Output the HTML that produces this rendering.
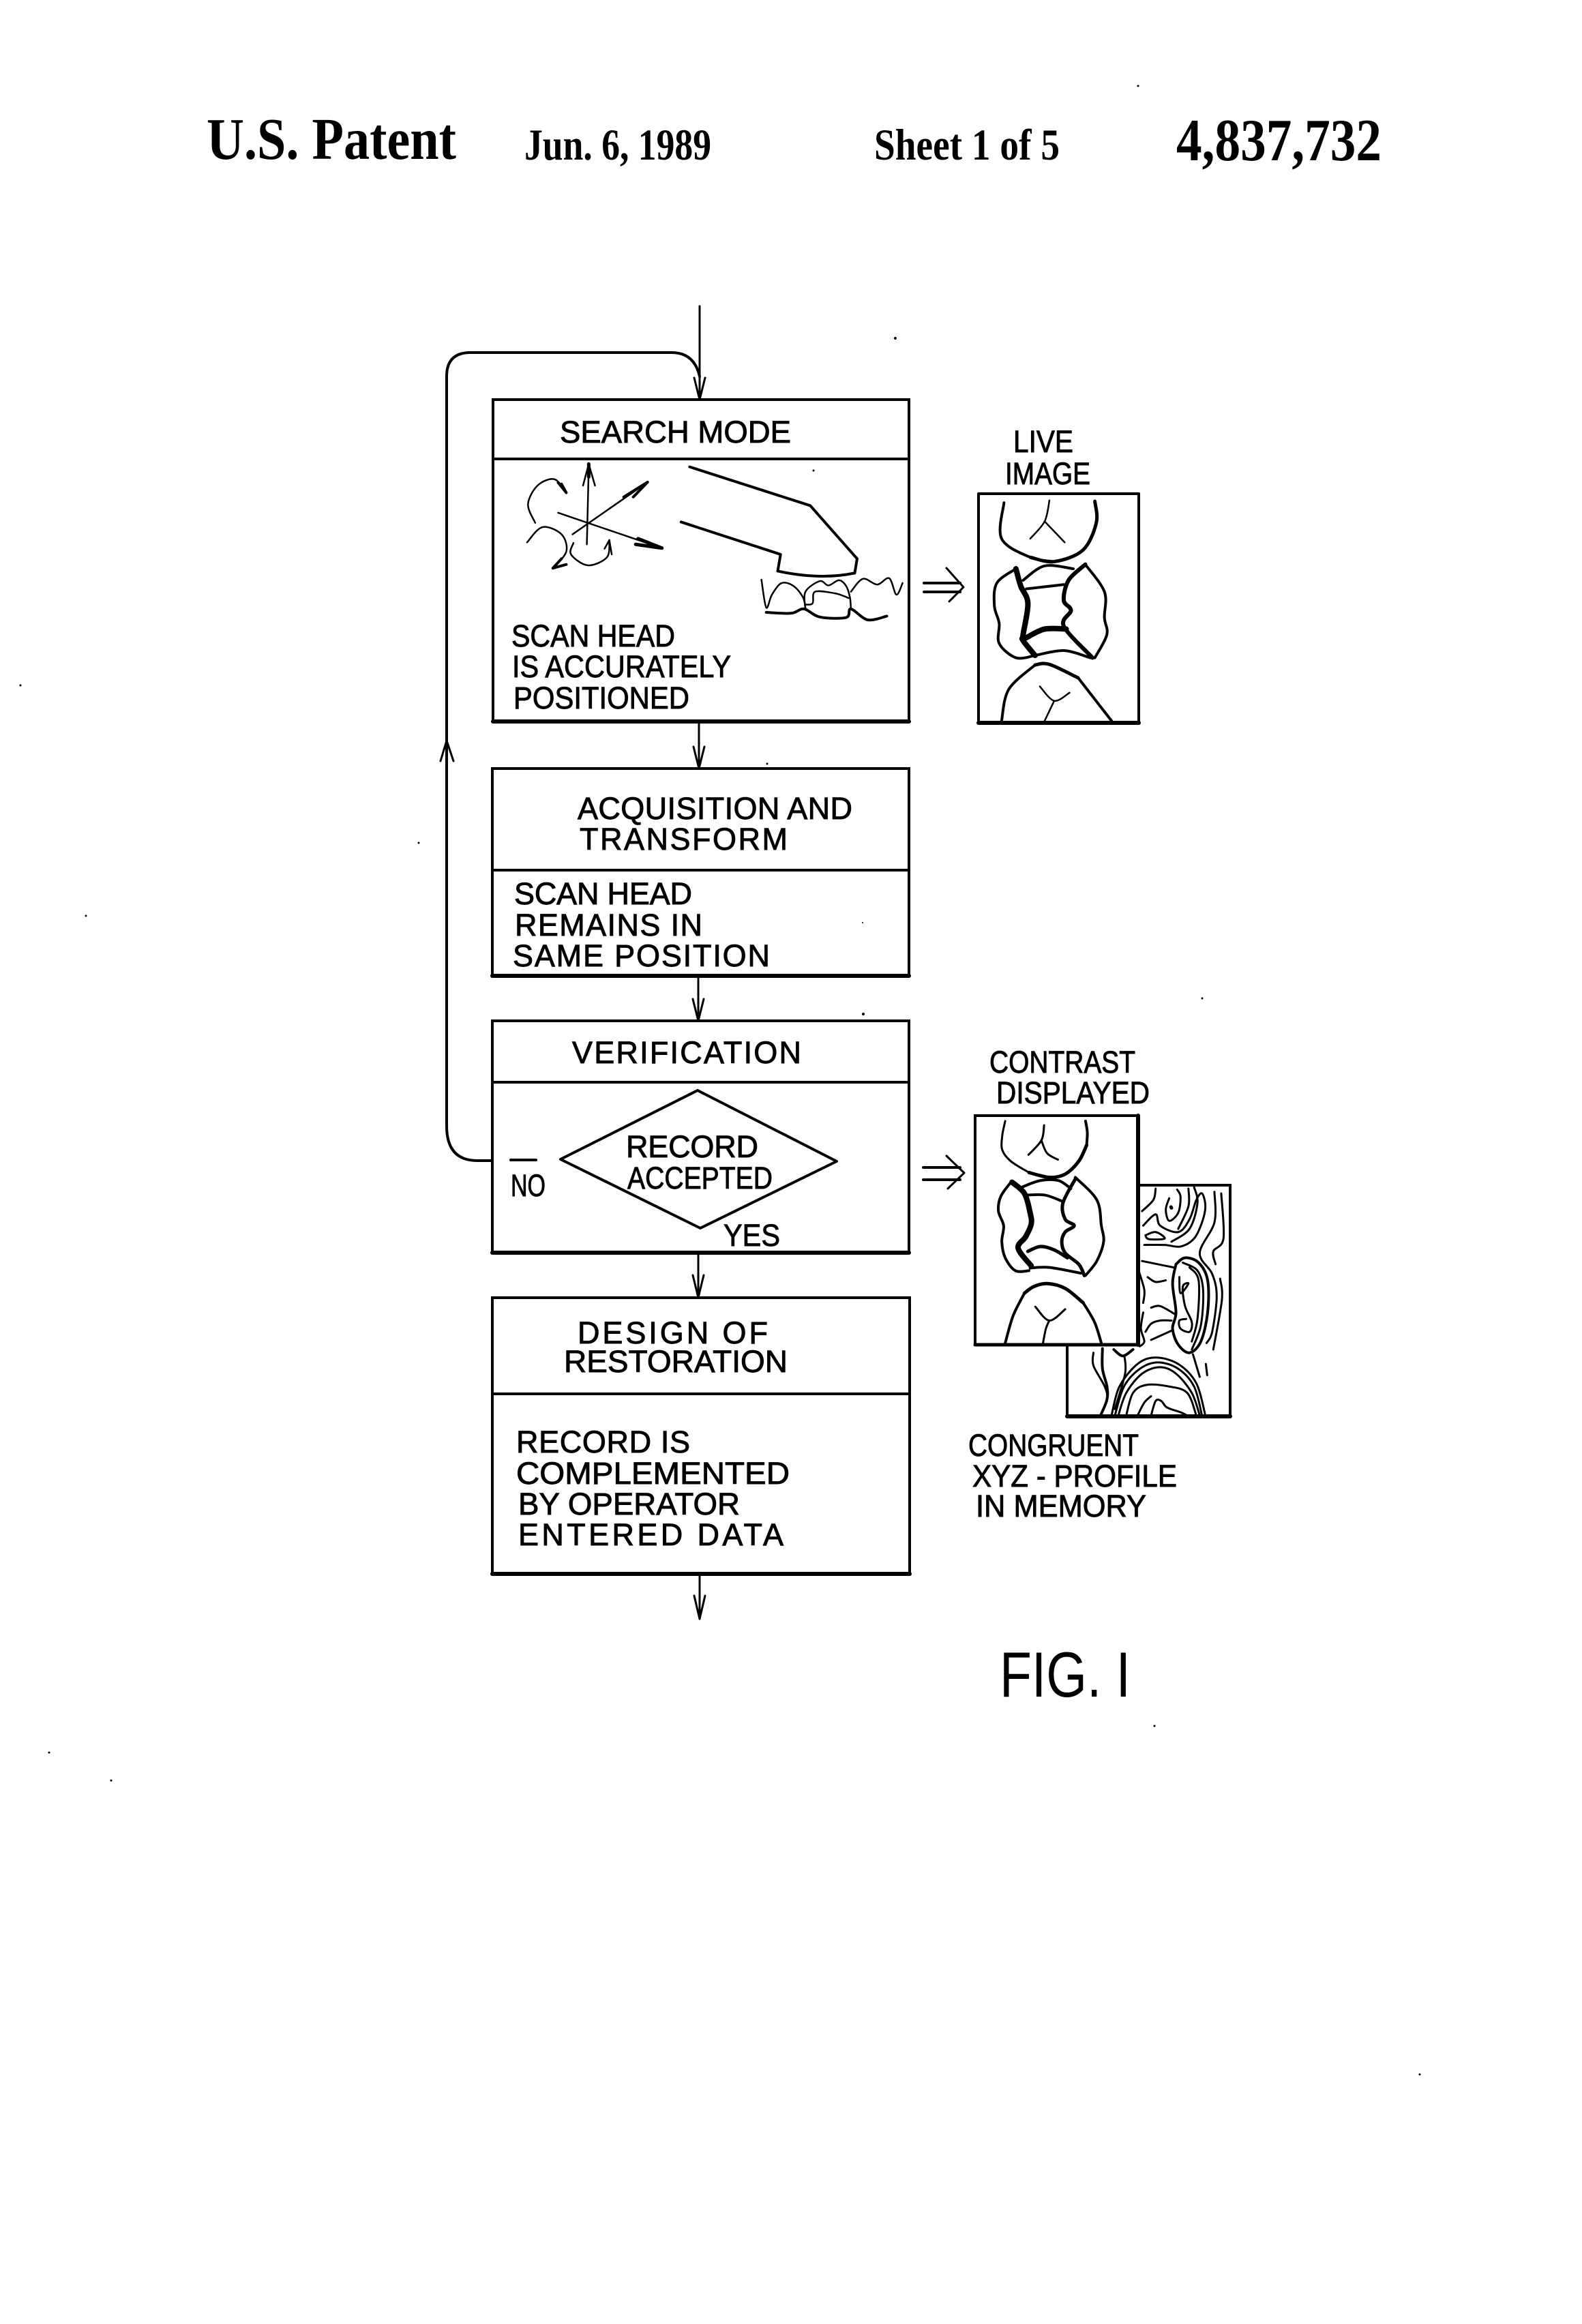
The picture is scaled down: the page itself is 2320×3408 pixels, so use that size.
<!DOCTYPE html>
<html lang="en">
<head>
<meta charset="utf-8">
<title>U.S. Patent 4,837,732 Sheet 1</title>
<style>
html,body{margin:0;padding:0;background:#fff}
svg{display:block}
polyline,path,line{fill:none;stroke:#000;stroke-width:3;stroke-linejoin:round;stroke-linecap:round;vector-effect:non-scaling-stroke}
rect{fill:#fff;stroke:#000;stroke-width:4;vector-effect:non-scaling-stroke}
.th{stroke-width:6}
.t2{stroke-width:4}
.t8{stroke-width:8}
.t5{stroke-width:5}
.t1{stroke-width:2.5}
text{fill:#000}
.l{font-family:"Liberation Sans",sans-serif;font-size:45px;stroke:#000;stroke-width:.9px}
.h{font-family:"Liberation Serif",serif}
</style>
</head>
<body>
<svg xmlns="http://www.w3.org/2000/svg" width="2320" height="3408" viewBox="0 0 2320 3408">
<rect x="0" y="0" width="2320" height="3408" style="stroke:none"/>

<!-- header -->
<text class="h" x="303" y="233" font-size="87" font-weight="bold" textLength="366" lengthAdjust="spacingAndGlyphs">U.S. Patent</text>
<text class="h" x="769" y="234" font-size="65" textLength="274" lengthAdjust="spacingAndGlyphs" font-weight="bold">Jun. 6, 1989</text>
<text class="h" x="1282" y="234" font-size="65" textLength="272" lengthAdjust="spacingAndGlyphs" font-weight="bold">Sheet 1 of 5</text>
<text class="h" x="1725" y="235" font-size="88" font-weight="bold" textLength="301" lengthAdjust="spacingAndGlyphs">4,837,732</text>

<!-- connectors -->
<line x1="1026" y1="449" x2="1026" y2="586"/>
<polyline points="1018,554 1026,586 1034,554"/>
<path class="t2" d="M722,1702 H700 Q655,1702 655,1651 V552 Q655,517 690,517 H985 Q1018,517 1026,552"/>
<polyline points="646,1116 655,1086 665,1116"/>
<line x1="1025" y1="1058" x2="1025" y2="1127"/>
<polyline points="1017,1095 1025,1127 1033,1095"/>
<line x1="1024" y1="1431" x2="1024" y2="1497"/>
<polyline points="1016,1465 1024,1497 1032,1465"/>
<line x1="1024" y1="1837" x2="1024" y2="1903"/>
<polyline points="1016,1870 1024,1903 1032,1870"/>
<line x1="1026" y1="2308" x2="1026" y2="2374"/>
<polyline points="1018,2340 1026,2374 1034,2340"/>

<!-- box 1 -->
<rect x="723" y="586" width="610" height="472"/>
<line class="t2" x1="723" y1="673" x2="1333" y2="673"/>
<line class="th" x1="723" y1="1058" x2="1333" y2="1058"/>
<text class="l" x="821" y="649" textLength="339" lengthAdjust="spacingAndGlyphs">SEARCH MODE</text>
<text class="l" x="750" y="948" textLength="240" lengthAdjust="spacingAndGlyphs">SCAN HEAD</text>
<text class="l" x="751" y="993" textLength="321" lengthAdjust="spacingAndGlyphs">IS ACCURATELY</text>
<text class="l" x="753" y="1039" textLength="258" lengthAdjust="spacingAndGlyphs">POSITIONED</text>

<!-- box 2 -->
<rect x="722" y="1127" width="611" height="304"/>
<line class="t2" x1="722" y1="1276" x2="1333" y2="1276"/>
<line class="th" x1="722" y1="1431" x2="1333" y2="1431"/>
<text class="l" x="847" y="1201" textLength="403">ACQUISITION AND</text>
<text class="l" x="850" y="1246" textLength="305">TRANSFORM</text>
<text class="l" x="754" y="1326" textLength="261">SCAN HEAD</text>
<text class="l" x="755" y="1372" textLength="275">REMAINS IN</text>
<text class="l" x="752" y="1417" textLength="377">SAME POSITION</text>

<!-- box 3 -->
<rect x="722" y="1497" width="611" height="340"/>
<line class="t2" x1="722" y1="1587" x2="1333" y2="1587"/>
<line class="th" x1="722" y1="1837" x2="1333" y2="1837"/>
<text class="l" x="839" y="1559" textLength="336">VERIFICATION</text>
<polyline class="t2" points="1023,1599 1227,1703 1027,1801 822,1700 1023,1599"/>
<text class="l" x="918" y="1697" textLength="194">RECORD</text>
<text class="l" x="920" y="1743" textLength="213" lengthAdjust="spacingAndGlyphs">ACCEPTED</text>
<line class="t2" x1="749" y1="1701" x2="786" y2="1701"/>
<text class="l" x="749" y="1754" textLength="51" lengthAdjust="spacingAndGlyphs">NO</text>
<text class="l" x="1061" y="1827" textLength="83" lengthAdjust="spacingAndGlyphs">YES</text>

<!-- box 4 -->
<rect x="722" y="1903" width="612" height="405"/>
<line class="t2" x1="722" y1="2044" x2="1334" y2="2044"/>
<line class="th" x1="722" y1="2308" x2="1334" y2="2308"/>
<text class="l" x="847" y="1970" textLength="279">DESIGN OF</text>
<text class="l" x="827" y="2012" textLength="328" lengthAdjust="spacingAndGlyphs">RESTORATION</text>
<text class="l" x="757" y="2130" textLength="255">RECORD IS</text>
<text class="l" x="757" y="2176" textLength="401" lengthAdjust="spacingAndGlyphs">COMPLEMENTED</text>
<text class="l" x="760" y="2221" textLength="325" lengthAdjust="spacingAndGlyphs">BY OPERATOR</text>
<text class="l" x="760" y="2266" textLength="389">ENTERED DATA</text>

<!-- double arrows -->
<line class="t2" x1="1355" y1="855" x2="1408" y2="855"/>
<line class="t2" x1="1355" y1="868" x2="1408" y2="868"/>
<polyline points="1388,833 1413,861 1392,882"/>
<line class="t2" x1="1354" y1="1712" x2="1408" y2="1712"/>
<line class="t2" x1="1354" y1="1730" x2="1408" y2="1730"/>
<polyline points="1388,1695 1414,1720 1390,1743"/>

<!-- search mode drawing, zoom-2 coordinates -->
<g class="s" transform="translate(620,430) scale(.7015,.4209)">
  <path class="t2" d="M558,605 L810,740 L908,925 L903,975 Q830,1000 742,968 L748,910 L540,797"/>
  <line class="t1" x1="343" y1="875" x2="347" y2="600"/>
  <line class="t5" x1="347" y1="595" x2="347" y2="640"/>
  <polyline class="t1 n" points="335,670 347,595 360,670"/>
  <line class="t1" x1="313" y1="840" x2="470" y2="658"/>
  <polyline class="t2 n" points="420,710 470,658 440,710"/>
  <line class="t1" x1="283" y1="765" x2="500" y2="888"/>
  <polyline class="t5 n" points="450,855 500,888 445,875"/>
  <polyline class="t1" points="235,800 220,735 240,670 275,648 300,695"/>
  <polyline class="t2 n" points="283,660 300,695 290,665"/>
  <polyline class="t1" points="218,868 250,815 290,840 300,900 272,958"/>
  <polyline class="t2 n" points="290,925 272,958 300,945"/>
  <polyline class="t1" points="315,870 310,910 345,948 385,920 390,860"/>
  <polyline class="t1 n" points="380,890 390,860 395,910"/>
  <!-- small teeth -->
  <polyline class="t1" points="708,998 718,1095 730,1050 750,1010 775,1020 795,1060 800,1100"/>
  <polyline class="t2" points="718,1112 770,1115 797,1100 830,1128 885,1130 895,1100 930,1138 970,1125"/>
  <polyline class="t1" points="800,1100 800,1040 830,1003 848,1018 870,1000 885,1020 893,1060 895,1100"/>
  <polyline class="t1" points="800,1085 815,1080 820,1040 860,1045 880,1055 890,1062"/>
  <polyline class="t1" points="895,1040 920,995 950,1015 975,993 990,1050 1003,1010"/>
  <!-- live image teeth -->
  <polyline class="t2" points="1215,730 1210,855 1270,920 1320,935"/>
  <polyline class="t5" points="1270,920 1320,935 1380,895 1408,800 1405,725"/>
  <polyline class="t1" points="1310,722 1300,795 1270,855"/>
  <polyline class="t1" points="1300,795 1342,868"/>
  <polyline class="t2" points="1240,960 1200,1010 1195,1090 1205,1150 1205,1220 1240,1270 1280,1262"/>
  <polyline class="t8" points="1240,960 1250,1020 1265,1080 1255,1190 1255,1210 1280,1262"/>
  <polyline class="t2" points="1255,1000 1300,950 1360,960"/>
  <polyline class="t2" points="1262,1030 1340,1015"/>
  <polyline class="th" points="1385,945 1350,1000 1340,1070 1355,1105 1340,1160 1400,1270"/>
  <polyline class="t2" points="1385,945 1425,1040 1425,1130 1430,1190 1405,1270"/>
  <polyline class="t8" points="1262,1200 1300,1170 1345,1170"/>
  <polyline class="t2" points="1280,1262 1340,1245 1395,1270"/>
  <polyline class="t2" points="1210,1490 1225,1380 1280,1295"/>
  <polyline class="t5" points="1280,1295 1310,1293 1370,1340"/>
  <polyline class="t2" points="1370,1340 1440,1490"/>
  <polyline class="t1" points="1290,1370 1320,1420 1352,1392"/>
  <polyline class="t1" points="1320,1420 1300,1490"/>
</g>

<!-- live image frame -->
<path class="t2" d="M1435,724 H1670 V1060 H1435 Z"/>
<line class="th" x1="1435" y1="1060" x2="1670" y2="1060"/>
<text class="l" x="1486" y="663" textLength="88" lengthAdjust="spacingAndGlyphs">LIVE</text>
<text class="l" x="1474" y="710" textLength="125" lengthAdjust="spacingAndGlyphs">IMAGE</text>

<!-- back (profile) box -->
<rect x="1565" y="1738" width="239" height="339"/>
<line class="th" x1="1565" y1="2077" x2="1804" y2="2077"/>
<g class="s" transform="translate(1300,1500) scale(.3317,.4719)">
  <polyline points="1190,515 1180,550 1130,585"/>
  <polyline points="1135,630 1190,595 1210,630 1290,650 1340,610 1370,550 1395,530 1410,570 1395,620 1360,670 1300,695 1230,690 1140,690"/>
  <polyline points="1145,660 1190,650 1230,670 1160,672 1145,660"/>
  <polyline points="1250,545 1235,580 1250,615 1290,590 1300,540 1285,518"/>
  <polyline class="t5" points="1258,572 1260,575"/>
  <polyline points="1335,515 1335,570 1290,640"/>
  <polyline points="1360,510 1375,560 1340,640 1260,680"/>
  <polyline points="1450,525 1450,620 1385,715 1440,780 1460,850 1440,960 1415,995"/>
  <polyline points="1480,530 1490,670 1445,710 1455,750"/>
  <polyline points="1475,795 1483,860 1445,1015"/>
  <polyline class="t2" points="1280,750 1265,810 1280,900 1265,950 1290,1000 1340,1025 1390,990 1420,900 1420,800 1380,745 1320,730 1280,750"/>
  <polyline points="1310,745 1375,770 1400,830 1390,940 1350,1015"/>
  <polyline points="1340,760 1380,800 1375,920 1350,990"/>
  <polyline points="1295,790 1300,840 1335,810 1310,820 1320,880 1350,930 1340,960 1300,950 1295,925 1325,920"/>
  <polyline points="1130,740 1200,750 1270,760"/>
  <polyline points="1155,790 1190,805 1235,800"/>
  <polyline points="1170,885 1210,880 1275,905"/>
  <polyline points="1145,960 1170,935 1210,925 1260,925"/>
  <polyline points="1170,985 1265,955"/>
  <polyline points="1115,770 1140,830 1135,870"/>
  <polyline points="1135,900 1125,950 1140,990 1120,1005"/>
  <polyline points="915,1025 915,1065 965,1130 975,1170 945,1220"/>
  <polyline class="t2" points="955,1012 955,1075 975,1130 975,1170 950,1215"/>
  <polyline class="t2" points="1005,1015 1045,1035 1090,1015"/>
  <polyline points="1052,1035 1055,1090 1010,1200"/>
  <polyline points="995,1220 1030,1130 1110,1060 1190,1040 1290,1060 1370,1120 1410,1220"/>
  <polyline points="1010,1220 1050,1130 1120,1075 1200,1055 1290,1075 1360,1130 1395,1220"/>
  <polyline points="1025,1220 1060,1150 1130,1090 1210,1070 1280,1090 1350,1150 1385,1220"/>
  <polyline points="1060,1220 1090,1150 1150,1125 1250,1130 1330,1150 1370,1220"/>
  <polyline points="1110,1220 1140,1180 1170,1160"/>
  <polyline points="1170,1220 1190,1175 1215,1175 1240,1195 1300,1210 1330,1220"/>
  <polyline points="1355,1030 1385,1100"/>
  <polyline points="1412,1060 1418,1095"/>
</g>

<!-- contrast box -->
<rect x="1430" y="1636" width="239" height="336"/>
<line class="th" x1="1669" y1="1636" x2="1669" y2="1972"/>
<line class="t5" x1="1430" y1="1972" x2="1669" y2="1972"/>
<g class="s" transform="translate(1300,1500) scale(.3317,.4719)">
  <polyline points="525,305 512,350 512,395 550,430 630,465"/>
  <polyline class="t5" points="630,465 720,480 790,470 850,430 885,380"/>
  <polyline class="t2" points="885,380 888,340 880,305"/>
  <polyline points="697,318 685,365 628,410"/>
  <polyline points="685,365 710,405 758,425"/>
  <polyline class="t2" points="550,495 505,540 495,585 518,630 510,680 525,730 570,770 630,770"/>
  <polyline class="t8" points="555,495 610,530 635,590 640,625 615,665 582,700 640,755"/>
  <polyline class="t2" points="600,510 680,490 760,490 815,515"/>
  <polyline class="t2" points="620,535 700,535 780,555"/>
  <polyline class="t5" points="835,485 780,560 790,610 830,630 790,650 775,680 790,715 850,750 875,785"/>
  <polyline class="t2" points="835,480 930,550 950,630 960,680 930,740 880,785"/>
  <polyline class="t5" points="625,710 680,695 740,705 800,730"/>
  <polyline class="t2" points="635,762 720,760 860,778"/>
  <polyline class="t2" points="525,995 560,910 610,840"/>
  <polyline class="t5" points="610,840 650,820 710,810 790,825 870,870"/>
  <polyline class="t2" points="870,870 920,930 950,995"/>
  <polyline points="658,882 720,925 790,890"/>
  <polyline points="720,925 705,950 692,995"/>
</g>
<text class="l" x="1451" y="1573" textLength="214" lengthAdjust="spacingAndGlyphs">CONTRAST</text>
<text class="l" x="1461" y="1618" textLength="225" lengthAdjust="spacingAndGlyphs">DISPLAYED</text>
<text class="l" x="1420" y="2135" textLength="250" lengthAdjust="spacingAndGlyphs">CONGRUENT</text>
<text class="l" x="1426" y="2180" textLength="300" lengthAdjust="spacingAndGlyphs">XYZ - PROFILE</text>
<text class="l" x="1431" y="2224" textLength="250" lengthAdjust="spacingAndGlyphs">IN MEMORY</text>

<!-- figure label -->
<text font-family="'Liberation Sans',sans-serif" font-size="94" x="1466" y="2488" textLength="192" lengthAdjust="spacingAndGlyphs">FIG. I</text>

<!-- specks -->
<g fill="#000">
  <circle cx="1669" cy="126" r="1.5"/><circle cx="1313" cy="496" r="2"/><circle cx="1193" cy="690" r="1.5"/>
  <circle cx="30" cy="1005" r="1.5"/><circle cx="126" cy="1343" r="1.5"/><circle cx="72" cy="2570" r="1.5"/>
  <circle cx="163" cy="2611" r="1.5"/><circle cx="2082" cy="3042" r="1.5"/><circle cx="1693" cy="2531" r="1.5"/>
  <circle cx="1763" cy="1464" r="1.5"/><circle cx="614" cy="1236" r="1.5"/><circle cx="1266" cy="1487" r="2"/>
  <circle cx="1125" cy="1120" r="1.5"/><circle cx="1265" cy="1353" r="1"/>
</g>
</svg>
<script>
document.querySelectorAll('g.s polyline:not(.n)').forEach(function(e){
  var p=[],a=e.points;
  for(var i=0;i<a.numberOfItems;i++){var q=a.getItem(i);p.push([q.x,q.y]);}
  var d='M'+p[0][0]+','+p[0][1];
  for(i=0;i<p.length-1;i++){
    var m=p[Math.max(i-1,0)],b=p[i],c=p[i+1],f=p[Math.min(i+2,p.length-1)];
    d+=' C'+(b[0]+(c[0]-m[0])/6)+','+(b[1]+(c[1]-m[1])/6)+' '+(c[0]-(f[0]-b[0])/6)+','+(c[1]-(f[1]-b[1])/6)+' '+c[0]+','+c[1];
  }
  var n=document.createElementNS('http://www.w3.org/2000/svg','path');
  n.setAttribute('d',d);
  if(e.getAttribute('class'))n.setAttribute('class',e.getAttribute('class'));
  e.parentNode.replaceChild(n,e);
});
</script>
</body>
</html>
